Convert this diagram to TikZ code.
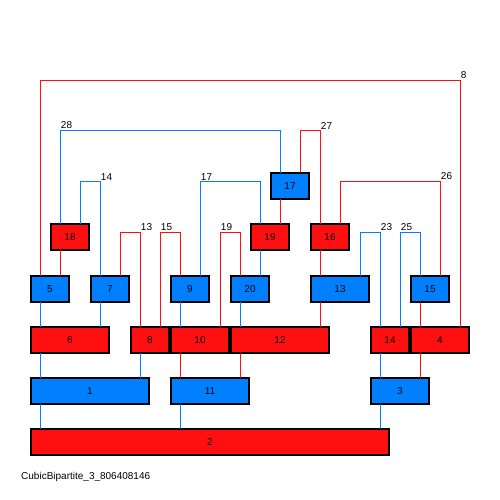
\documentclass[tikz,border=0pt]{standalone}
\usepackage{fontspec}
\setmainfont{Liberation Sans}
\definecolor{graphblue}{RGB}{0,128,255}
\definecolor{graphred}{RGB}{255,16,16}
\tikzset{
    vbox/.style={draw=black, line width=1.1pt, minimum height=26pt, inner sep=0pt, outer sep=0pt,
        font=\fontsize{10}{12}\selectfont},
    bluebox/.style={vbox, fill=graphblue},
    redbox/.style={vbox, fill=graphred},
    wire/.style={line width=0.9pt},
    bluewire/.style={wire, draw=graphblue},
    redwire/.style={wire, draw=graphred},
    lbl/.style={anchor=south west, inner sep=0.5pt, font=\fontsize{10}{12}\selectfont}
}

\begin{document}
\begin{tikzpicture}[x=1pt, y=-1pt]
    \useasboundingbox[fill=white] (0,0) rectangle (500,500);

    % vertices, row by row
    \node[bluebox, minimum width=38pt] (n17) at (290, 186) {17};

    \node[redbox, minimum width=38pt] (n18) at (70, 237) {18};
    \node[redbox, minimum width=38pt] (n19) at (270, 237) {19};
    \node[redbox, minimum width=38pt] (n16) at (330, 237) {16};

    \node[bluebox, minimum width=38pt] (n5) at (50, 289) {5};
    \node[bluebox, minimum width=38pt] (n7) at (110, 289) {7};
    \node[bluebox, minimum width=38pt] (n9) at (190, 289) {9};
    \node[bluebox, minimum width=38pt] (n20) at (250, 289) {20};
    \node[bluebox, minimum width=58pt] (n13) at (340, 289) {13};
    \node[bluebox, minimum width=38pt] (n15) at (430, 289) {15};

    \node[redbox, minimum width=78pt] (n6) at (70, 340) {6};
    \node[redbox, minimum width=38pt] (n8) at (150, 340) {8};
    \node[redbox, minimum width=58pt] (n10) at (200, 340) {10};
    \node[redbox, minimum width=98pt] (n12) at (280, 340) {12};
    \node[redbox, minimum width=38pt] (n14) at (390, 340) {14};
    \node[redbox, minimum width=58pt] (n4) at (440, 340) {4};

    \node[bluebox, minimum width=118pt] (n1) at (90, 391) {1};
    \node[bluebox, minimum width=78pt] (n11) at (210, 391) {11};
    \node[bluebox, minimum width=58pt] (n3) at (400, 391) {3};

    \node[redbox, minimum width=358pt] (n2) at (210, 442) {2};

    % straight edges between neighbouring rows
    \foreach \up/\us/\dn/\ds/\col in {
        n17/-10/n19/10/graphred, n18/-10/n5/10/graphred, n19/-10/n20/10/graphblue,
        n16/-10/n13/-20/graphred, n5/-10/n6/-30/graphblue, n7/-10/n6/30/graphblue,
        n9/-10/n10/-20/graphblue, n20/-10/n12/-40/graphblue, n13/-20/n12/40/graphred,
        n15/-10/n4/-20/graphred, n6/-30/n1/-50/graphblue, n8/-10/n1/50/graphblue,
        n10/-20/n11/-30/graphred, n12/-40/n11/30/graphred, n14/-10/n3/-20/graphblue,
        n4/-20/n3/20/graphred, n1/-50/n2/-170/graphblue, n11/-30/n2/-30/graphblue,
        n3/-20/n2/170/graphblue}
        \draw[wire, draw=\col] ([xshift=\us pt]\up.south) -- ([xshift=\ds pt]\dn.north);

    % bracket edges over the top
    \draw[redwire] ([xshift=-10pt]n5.north) -- ++(0,-196) -| node[lbl] {8} ([xshift=20pt]n4.north);
    \draw[bluewire] ([xshift=-10pt]n18.north) -- ++(0,-94) node[lbl] {28} -| ([xshift=-10pt]n17.north);
    \draw[bluewire] ([xshift=10pt]n18.north) -- ++(0,-43) -| node[lbl] {14} ([xshift=-10pt]n7.north);
    \draw[redwire] ([xshift=10pt]n7.north) -- ++(0,-44) -| node[lbl] {13} ([xshift=-10pt]n8.north);
    \draw[redwire] ([xshift=10pt]n8.north) -- ++(0,-95) node[lbl] {15} -| ([xshift=-10pt]n9.north);
    \draw[bluewire] ([xshift=10pt]n9.north) -- ++(0,-95) node[lbl] {17} -| ([xshift=-10pt]n19.north);
    \draw[redwire] ([xshift=20pt]n10.north) -- ++(0,-95) node[lbl] {19} -| ([xshift=-10pt]n20.north);
    \draw[redwire] ([xshift=10pt]n17.north) -- ++(0,-43) -| node[lbl] {27} ([xshift=-10pt]n16.north);
    \draw[redwire] ([xshift=10pt]n16.north) -- ++(0,-43) -| node[lbl] {26} ([xshift=10pt]n15.north);
    \draw[bluewire] ([xshift=20pt]n13.north) -- ++(0,-44) -| node[lbl] {23} ([xshift=-10pt]n14.north);
    \draw[bluewire] ([xshift=10pt]n14.north) -- ++(0,-95) node[lbl] {25} -| ([xshift=-10pt]n15.north);

    \node[anchor=base west, inner sep=0pt, font=\fontsize{10}{12}\selectfont] (caption) at (21, 479.5) {CubicBipartite\_3\_806408146};
\end{tikzpicture}
\end{document}
